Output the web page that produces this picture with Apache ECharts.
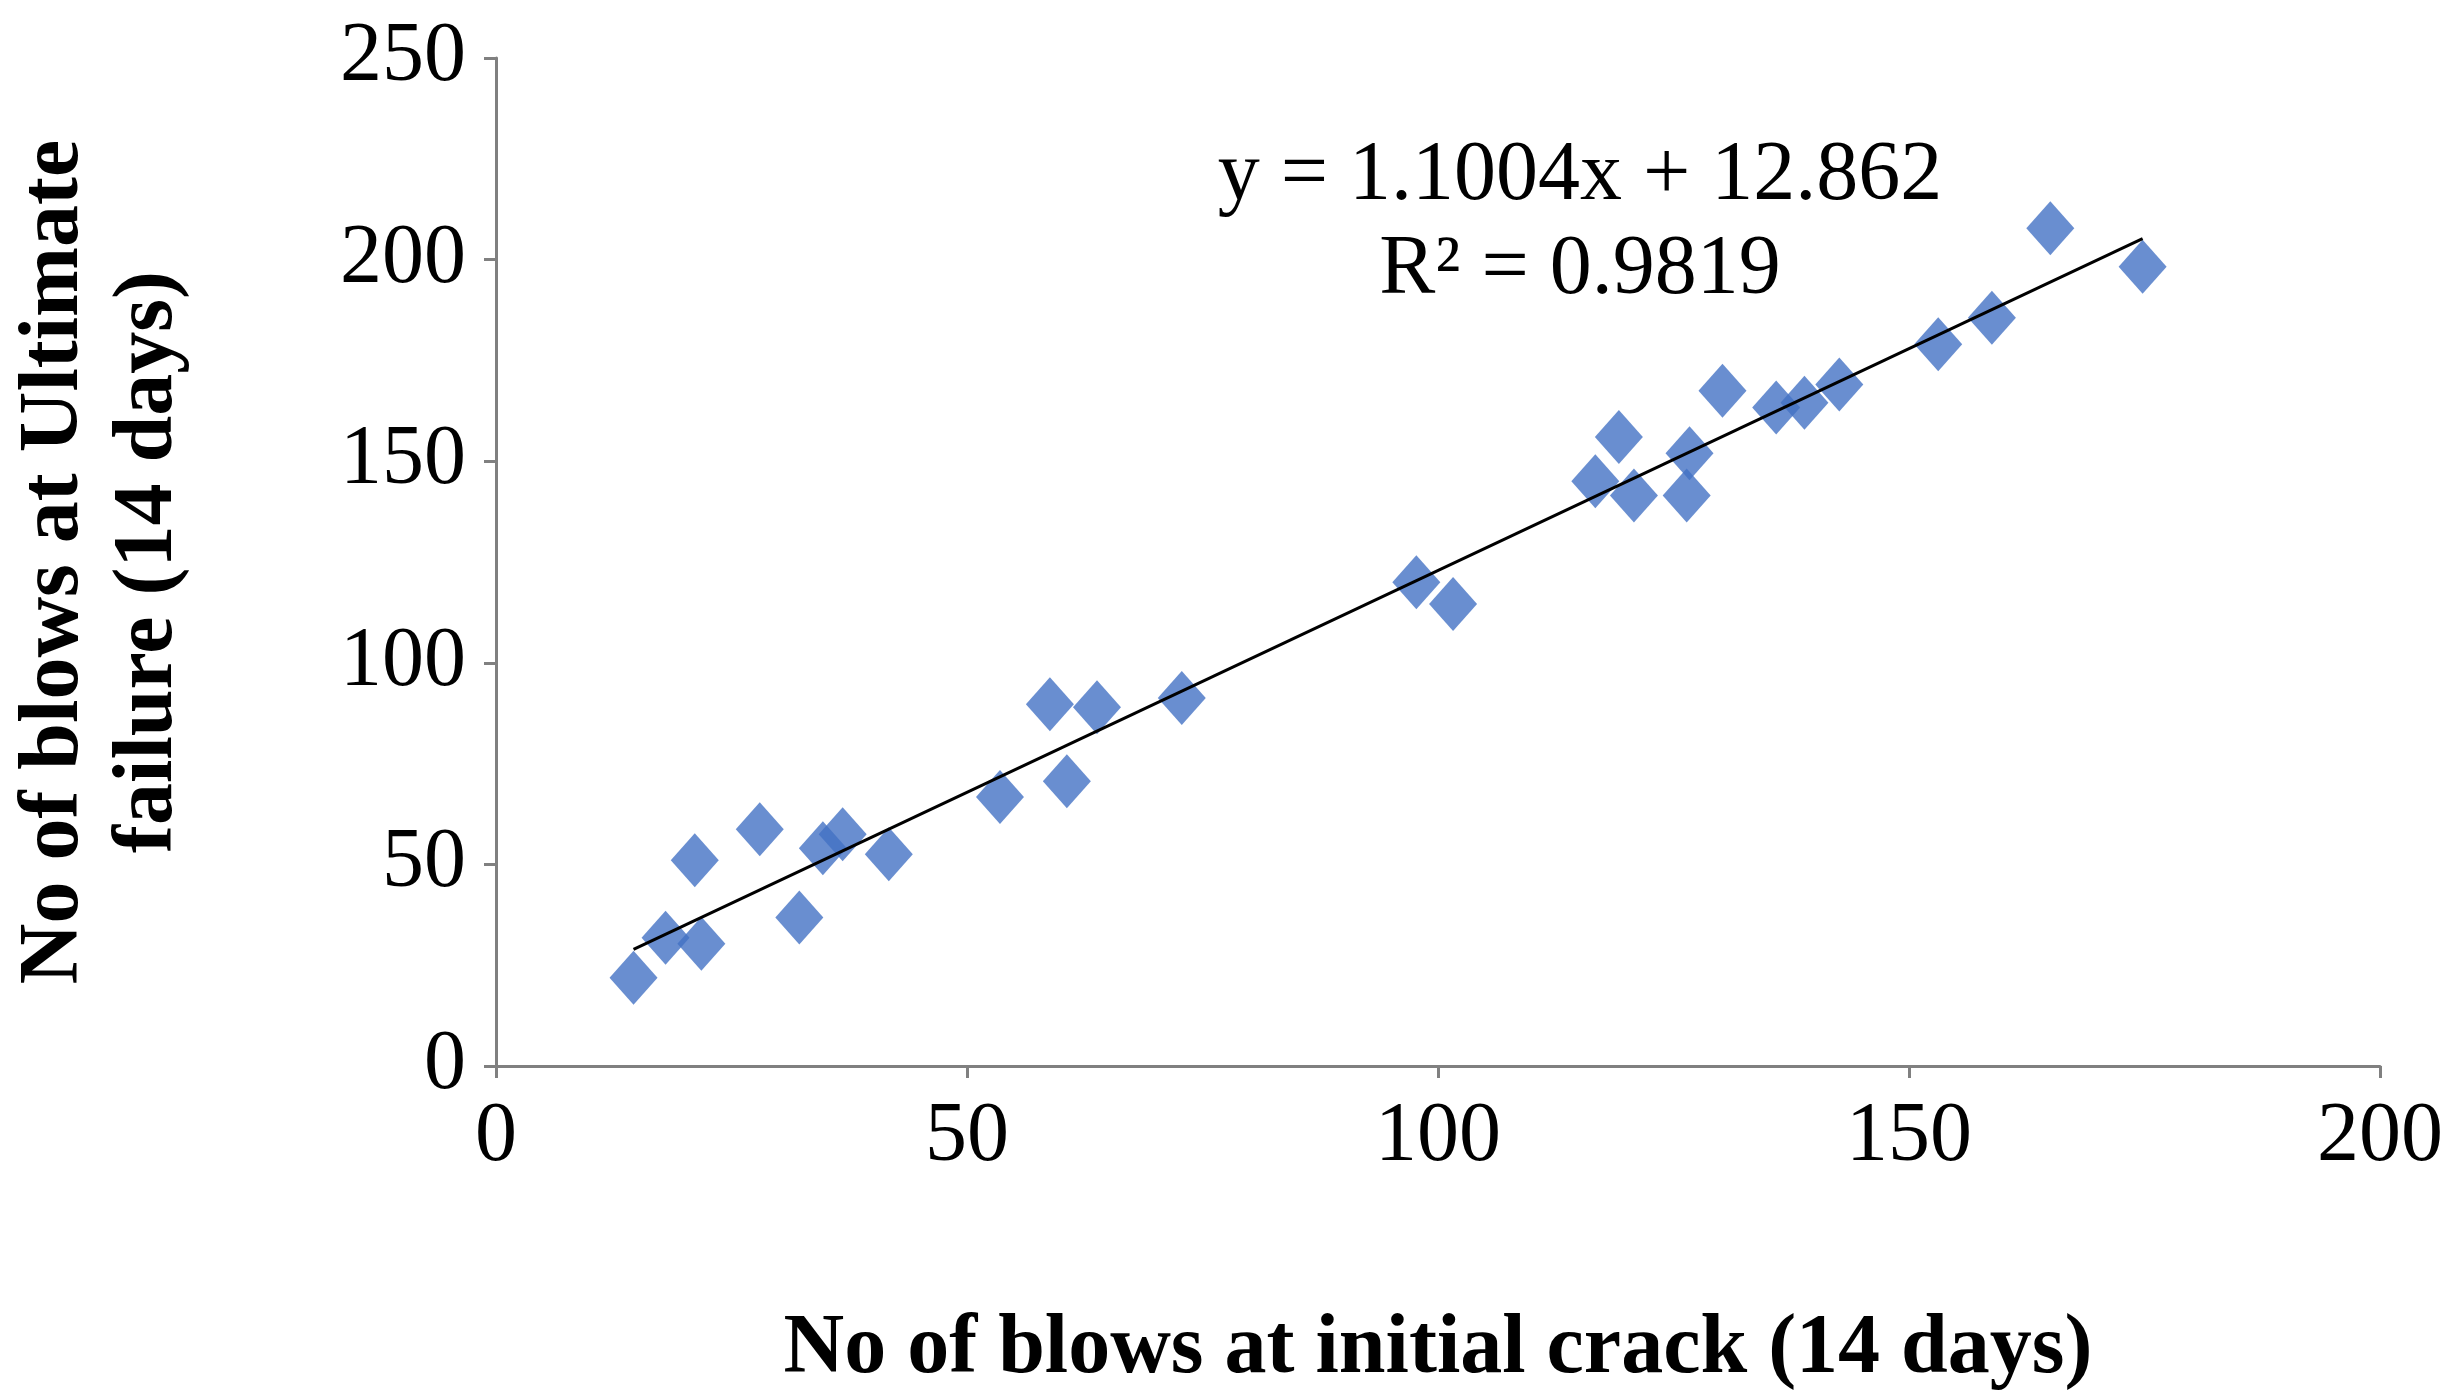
<!DOCTYPE html><html><head><meta charset="utf-8"><script src="https://cdn.jsdelivr.net/npm/echarts@6/dist/echarts.min.js"></script>
<style>html,body{margin:0;background:#fff}#c{width:2452px;height:1397px}</style></head><body><div id="c"></div><script>
const xVals=[14.6,18,21.8,21.1,28,32.2,34.7,36.8,41.7,53.5,58.8,60.6,63.8,72.8,97.7,101.6,116.7,119.2,120.8,126.4,126.7,130.2,135.9,138.9,142.6,153.1,158.8,165,174.8];
const yVals=[21.9,31.8,30.3,51,58.7,36.8,54,57.5,52.5,66.7,89.7,70.6,89,91.3,120,114.6,145,156,141.5,141.5,152,167.5,163.3,164.5,169,179,185.6,207.8,198.2];
const slope=1.1004, intercept=12.862;
const pts=xVals.map((x,i)=>[x,yVals[i]]);
const xmin=Math.min(...xVals), xmax=Math.max(...xVals);
const font='"Liberation Serif","Times New Roman",serif';
const ax={axisLine:{lineStyle:{color:'#808080',width:3}},axisTick:{lineStyle:{color:'#808080',width:3},length:12},splitLine:{show:false},axisLabel:{color:'#000',fontFamily:font,fontSize:84,margin:30}};
echarts.init(document.getElementById('c')).setOption({
grid:{left:459,right:72,top:58,bottom:314},
xAxis:Object.assign({type:'value',min:0,max:200,interval:50,name:'No of blows at initial crack (14 days)',nameLocation:'middle',nameGap:242,nameTextStyle:{fontFamily:font,fontSize:84,fontWeight:'bold',color:'#000'}},ax),
yAxis:Object.assign({type:'value',min:0,max:250,interval:50,name:'No of blows at Ultimate\nfailure (14 days)',nameLocation:'middle',nameGap:300,nameTextStyle:{fontFamily:font,fontSize:84,fontWeight:'bold',color:'#000',lineHeight:94}},ax),
series:[{type:'scatter',data:pts,symbol:'diamond',symbolSize:[48,54],itemStyle:{color:'#4472C4'},z:2},
{type:'line',data:[[xmin,slope*xmin+intercept],[xmax,slope*xmax+intercept]],symbol:'none',lineStyle:{color:'#000',width:3},z:3,silent:true}],
graphic:[{type:'text',x:1580,y:130,style:{text:'y = 1.1004x + 12.862\nR² = 0.9819',font:'84px '+font,fill:'#000',lineHeight:94,textAlign:'center'}}]
});
</script></body></html>
